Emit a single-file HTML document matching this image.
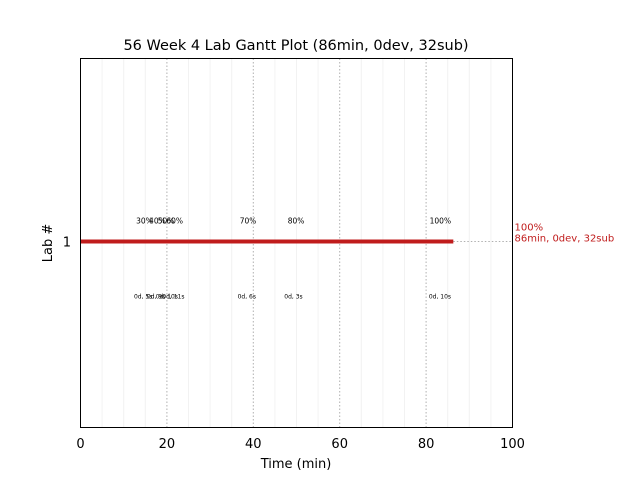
<!DOCTYPE html>
<html><head><meta charset="utf-8"><style>
body{margin:0;background:#fff;}
svg text{font-family:"DejaVu Sans","Liberation Sans",sans-serif;}
</style></head><body>
<svg id="chart" width="640" height="480" xmlns="http://www.w3.org/2000/svg">
<rect width="640" height="480" fill="#fff"/>
<text x="296" y="50" font-size="14.5" text-anchor="middle">56 Week 4 Lab Gantt Plot (86min, 0dev, 32sub)</text>
<g id="grid"></g>
<g id="marks"></g>
<rect x="80.5" y="58.5" width="432" height="369" fill="none" stroke="#000" stroke-width="1"/>
<g id="axes"></g>
<text x="296" y="468" font-size="13" text-anchor="middle">Time (min)</text>
<text x="52" y="243" font-size="13" text-anchor="middle" transform="rotate(-90 52 243)">Lab #</text>
</svg>
<script>
const xTicks=[0,20,40,60,80,100];
const minorTicks=[5,10,15,25,30,35,45,50,55,65,70,75,85,90,95];
const lanes=[1];
const barEnd=[86.3];
const pctLabels=["30%","40%","50%","60%","70%","80%","100%"];
const pctPos=[14.8,17.8,19.8,21.8,38.8,49.9,83.3];
const timeLabels=["0d, 5s","0d, 9s","0d, 10s","0d, 11s","0d, 6s","0d, 3s","0d, 10s"];
const timePos=[14.5,17.5,20,21.5,38.5,49.3,83.2];
const endLabel=["100%","86min, 0dev, 32sub"];
const X0=80.5,X1=512.5,Y0=58.5,Y1=427.5;
const xs=v=>X0+(v-0)/(100-0)*(X1-X0);
const ys=v=>Y0+(v-0)/(2-0)*(Y1-Y0)+ (v===1?-1.5:0);
const NS="http://www.w3.org/2000/svg";
function mk(t,a,p){const e=document.createElementNS(NS,t);for(const k in a)e.setAttribute(k,a[k]);p.appendChild(e);return e;}
const grid=document.getElementById('grid'),marks=document.getElementById('marks'),axes=document.getElementById('axes');
minorTicks.forEach(v=>{const l=mk('line',{x1:xs(v),x2:xs(v),y1:Y0,y2:Y1,stroke:'#f2f2f2','stroke-width':1},grid);

});
xTicks.forEach(v=>{
 if(v>0&&v<100){const l=mk('line',{x1:xs(v),x2:xs(v),y1:Y0,y2:Y1,stroke:'#b0b0b0','stroke-width':1,'stroke-dasharray':'1.5,2'},grid);
 
 }
 const t=mk('text',{x:xs(v),y:448,'font-size':13,'text-anchor':'middle'},axes);t.textContent=v;
 
 
});
lanes.forEach((ln,i)=>{
 const y=ys(ln);
 const t=mk('text',{x:71,y:y+5,'font-size':13,'text-anchor':'end'},axes);t.textContent=ln;
 
 
 const d=mk('line',{x1:xs(barEnd[i]),x2:X1,y1:y,y2:y,stroke:'#b0b0b0','stroke-width':1,'stroke-dasharray':'1.5,2'},marks);
 
 
 const b=mk('line',{x1:xs(0),x2:xs(barEnd[i]),y1:y,y2:y,stroke:'#c01c1c','stroke-width':4},marks);
 
 
 pctLabels.forEach((p,j)=>{const e=mk('text',{x:xs(pctPos[j]),y:y-18,'font-size':7.5,'text-anchor':'middle'},marks);e.textContent=p;
  
  });
 timeLabels.forEach((p,j)=>{const e=mk('text',{x:xs(timePos[j]),y:y+57,'font-size':6,'text-anchor':'middle'},marks);e.textContent=p;
  
  });
 endLabel.forEach((p,j)=>{const e=mk('text',{x:X1+2,y:y-11+j*11,'font-size':10,fill:'#c01c1c'},marks);e.textContent=p;
  
  });
});
</script>
</body></html>
